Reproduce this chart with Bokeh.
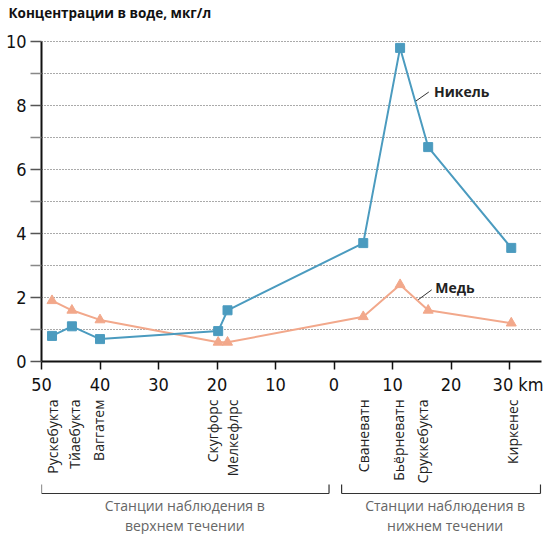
import math
from bokeh.plotting import figure
from bokeh.layouts import column
from bokeh.models import FixedTicker, Range1d
from bokeh.core.properties import value
from bokeh.embed import file_html
from bokeh.resources import INLINE

# ---- data ----
station_names = ["Рускебукта", "Тйаебукта", "Ваггатем", "Скугфорс", "Мелкефлрс",
                 "Сваневатн", "Бьёрневатн", "Сруккебукта", "Киркенес"]
station_km = [-48.2, -44.8, -40.0, -19.8, -18.2, 5.0, 11.3, 16.1, 30.3]
nickel = [0.8, 1.1, 0.7, 0.95, 1.6, 3.7, 9.8, 6.7, 3.55]
copper = [1.9, 1.6, 1.3, 0.6, 0.6, 1.4, 2.4, 1.6, 1.2]
label_km = [-48.1, -44.4, -40.2, -20.7, -17.3, 5.1, 11.1, 15.2, 30.5]

x_ticks = [-50, -40, -30, -20, -10, 0, 10, 20, 30]
x_tick_labels = ["50", "40", "30", "20", "10", "0", "10", "20", "30"]
x_unit = "km"
y_ticks = [0, 2, 4, 6, 8, 10]
y_minor = [1, 3, 5, 7, 9]

title_text = "Концентрации в воде, мкг/л"
group_upper = ["Станции наблюдения в", "верхнем течении"]
group_lower = ["Станции наблюдения в", "нижнем течении"]
group_centers = [-25.5, 19.0]
bracket_spans = [(-50.0, -0.85), (1.3, 35.3)]

NICKEL_C = "#4b9bbf"
COPPER_C = "#f2a88b"
TICK_FONT = "DejaVu Sans Condensed"
TEXT_FONT = "Open Sans"
NB = "\u00a0"

W = 543
x_range = Range1d(-50, 35.47)

# ---- main chart ----
# frame: 339 px tall, 32 px per unit -> top of range a little above 10
p1 = figure(width=W, height=398, output_backend="svg", toolbar_location=None,
            x_range=x_range, y_range=Range1d(0, 339 / 32),
            min_border_left=41, min_border_right=2, min_border_top=22, min_border_bottom=37)
p1.outline_line_color = None
p1.title.text = title_text
p1.title.align = "left"
p1.title.offset = -33
p1.title.standoff = 2
p1.title.text_font = TEXT_FONT
p1.title.text_font_style = "bold"
p1.title.text_font_size = "13.5px"
p1.title.text_color = "#111111"

p1.xgrid.visible = False
p1.ygrid.ticker = FixedTicker(ticks=list(range(1, 11)))
p1.ygrid.grid_line_color = "#555555"
p1.ygrid.grid_line_dash = "1 2"
p1.ygrid.grid_line_width = 1

overrides = {t: l for t, l in zip(x_ticks, x_tick_labels)}
overrides[x_ticks[-1]] = NB * 6 + x_tick_labels[-1] + NB + x_unit
p1.xaxis.ticker = FixedTicker(ticks=x_ticks)
p1.xaxis.major_label_overrides = overrides
p1.xaxis.axis_line_width = 2
p1.xaxis.axis_line_color = "#111111"
p1.xaxis.major_tick_out = 8
p1.xaxis.major_tick_in = 0
p1.xaxis.major_tick_line_width = 1.5
p1.xaxis.major_tick_line_color = "#111111"
p1.xaxis.minor_tick_line_color = None
p1.xaxis.major_label_text_font = TICK_FONT
p1.xaxis.major_label_text_font_size = "18px"
p1.xaxis.major_label_text_color = "#111111"
p1.xaxis.major_label_standoff = 4

p1.yaxis.ticker = FixedTicker(ticks=y_ticks, minor_ticks=y_minor)
p1.yaxis.bounds = (y_ticks[0], y_ticks[-1])
p1.yaxis.axis_line_width = 2
p1.yaxis.axis_line_color = "#111111"
p1.yaxis.major_tick_out = 11
p1.yaxis.major_tick_in = 0
p1.yaxis.minor_tick_out = 11
p1.yaxis.minor_tick_in = 0
p1.yaxis.major_tick_line_color = "#555555"
p1.yaxis.minor_tick_line_color = "#888888"
p1.yaxis.major_tick_line_width = 1.5
p1.yaxis.minor_tick_line_width = 1.5
p1.yaxis.major_label_text_font = TICK_FONT
p1.yaxis.major_label_text_font_size = "18px"
p1.yaxis.major_label_text_color = "#111111"
p1.yaxis.major_label_standoff = 4

p1.line(station_km, copper, line_color=COPPER_C, line_width=2)
p1.scatter(station_km, copper, marker="triangle", size=10, fill_color=COPPER_C, line_color=COPPER_C)
p1.line(station_km, nickel, line_color=NICKEL_C, line_width=2)
p1.scatter(station_km, nickel, marker="square", size=9, fill_color=NICKEL_C, line_color=NICKEL_C)

p1.segment(x0=[14.0, 14.4], y0=[8.14, 1.93], x1=[16.2, 16.7], y1=[8.42, 2.24],
           line_color="#333333", line_width=1)
p1.text(x=[17.1, 17.3], y=[8.44, 2.32], text=["Никель", "Медь"], text_font=value(TEXT_FONT),
        text_font_style="bold", text_font_size="14px", text_color="#222222",
        text_baseline="middle", text_align="left")

# ---- station labels & groups ----
p2 = figure(width=W, height=136, output_backend="svg", toolbar_location=None,
            x_range=x_range, y_range=Range1d(0, 136),
            x_axis_type=None, y_axis_type=None,
            min_border_left=41, min_border_right=2, min_border_top=0, min_border_bottom=0)
p2.outline_line_color = None
p2.grid.visible = False
p2.text(x=label_km, y=[135] * len(label_km), text=station_names, angle=math.pi / 2,
        text_align="right", text_baseline="middle", text_font=value(TEXT_FONT),
        text_font_size="14px", text_color="#222222")

bx0, bx1, by0, by1 = [], [], [], []
for a, b in bracket_spans:
    bx0 += [a, a, b]
    bx1 += [b, a, b]
    by0 += [41, 41, 41]
    by1 += [41, 50, 50]
p2.segment(x0=bx0, y0=by0, x1=bx1, y1=by1, line_color="#333333", line_width=1.2)

for cx, lines in zip(group_centers, [group_upper, group_lower]):
    p2.text(x=[cx, cx], y=[29, 9], text=lines, text_font=value(TEXT_FONT),
            text_font_size="14px", text_color="#666666", text_align="center",
            text_baseline="middle")

layout = column(p1, p2, spacing=0)
open("out.html", "w").write(file_html(layout, INLINE))
